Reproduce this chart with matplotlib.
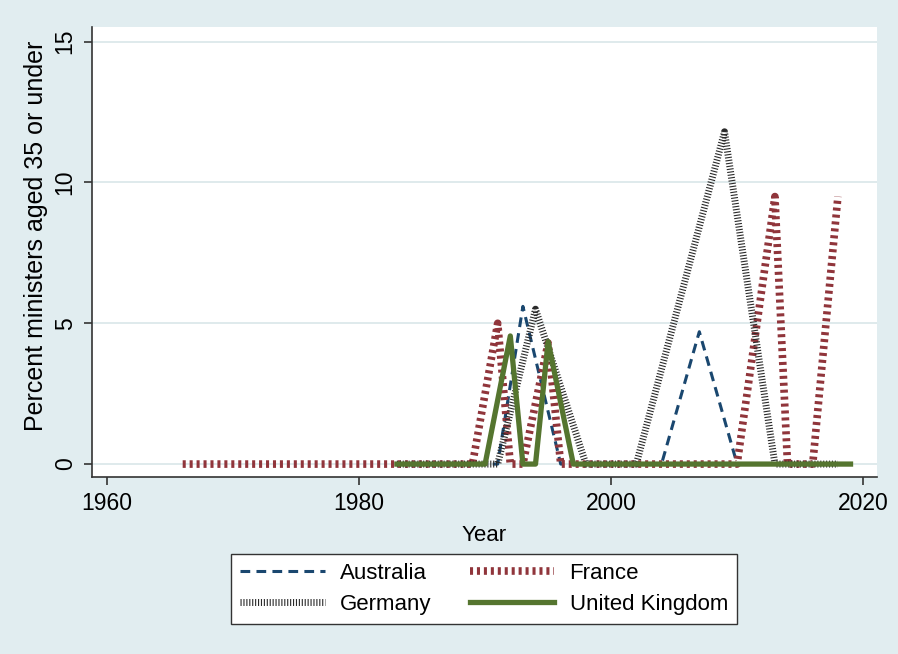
import matplotlib
matplotlib.use('Agg')
import matplotlib.pyplot as plt

plt.rcParams['font.family'] = ['Liberation Sans', 'DejaVu Sans']
plt.rcParams['lines.scale_dashes'] = False

# datos
aus_years = [1983, 1991, 1993, 1996, 2004, 2007, 2010, 2019]
aus_vals = [0, 0, 5.6, 0, 0, 4.7, 0, 0]

fra_years = [1966, 1989, 1991, 1992, 1993, 1995, 1996, 2010, 2013, 2014, 2016, 2018]
fra_vals = [0, 0, 5.0, 0, 0, 4.3, 0, 0, 9.5, 0, 0, 9.5]

ger_years = [1983, 1991, 1994, 1998, 2002, 2009, 2013, 2018]
ger_vals = [0, 0, 5.5, 0, 0, 11.8, 0, 0]

uk_years = [1983, 1990, 1992, 1993, 1994, 1995, 1997, 2019]
uk_vals = [0, 0, 4.55, 0, 0, 4.35, 0, 0]

bg = '#e1edf0'
fig = plt.figure(figsize=(8.98, 6.54), dpi=100, facecolor=bg)
ax = fig.add_axes([0.1024, 0.2706, 0.8742, 0.6881])
ax.set_facecolor('white')

l1, = ax.plot(aus_years, aus_vals, color='#1a476f', lw=2.2, linestyle=(0, (7, 4.5)), label='Australia')
l2, = ax.plot(fra_years, fra_vals, color='#90353b', lw=5.5, linestyle=(0, (2.2, 2.8)), label='France')
l3, = ax.plot(ger_years, ger_vals, color='#2a2a2a', lw=5, linestyle=(0, (0.8, 1.3)), label='Germany')
l4, = ax.plot(uk_years, uk_vals, color='#55752f', lw=3.8, label='United Kingdom')

ax.set_xlim(1958.8, 2021.1)
ax.set_ylim(-0.46, 15.52)
ax.set_xticks([1960, 1980, 2000, 2020])
ax.set_yticks([0, 5, 10, 15])
ax.grid(axis='y', color='#dce8eb', lw=1.3)
ax.set_axisbelow(True)

for s in ['top', 'right']:
    ax.spines[s].set_visible(False)
for s in ['left', 'bottom']:
    ax.spines[s].set_color('#333333')
    ax.spines[s].set_linewidth(1.2)

ax.tick_params(axis='both', labelsize=16.5, length=6, width=1.2, color='#333333', pad=5)
plt.setp(ax.get_yticklabels(), rotation=90, va='center')

ax.set_xlabel('Year', fontsize=16, labelpad=7)
ax.set_ylabel('Percent ministers aged 35 or under', fontsize=18)
ax.yaxis.set_label_coords(-0.056, 0.535)

leg = fig.legend(handles=[l1, l3, l2, l4], ncol=2, loc='center',
                 bbox_to_anchor=(0.539, 0.099), fontsize=16, frameon=True,
                 fancybox=False, handlelength=3.8, handletextpad=0.68,
                 columnspacing=1.75, borderpad=0.4, labelspacing=0.45)
leg.get_frame().set_edgecolor('#333333')
leg.get_frame().set_linewidth(1.0)
leg.get_frame().set_facecolor('white')
leg.get_frame().set_alpha(1)

fig.savefig('out.png', dpi=100, facecolor=bg)
